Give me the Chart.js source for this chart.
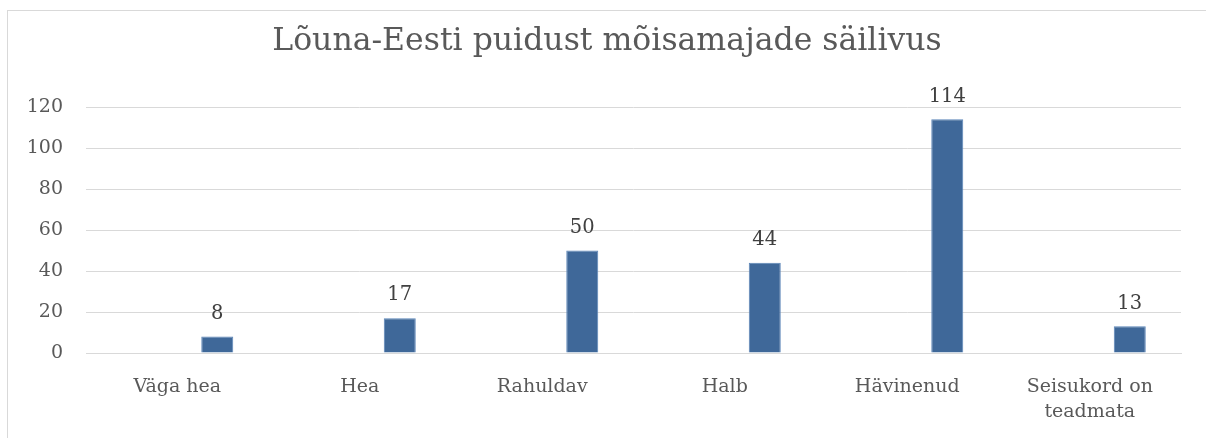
<!DOCTYPE html>
<html>
<head>
<meta charset="utf-8">
<script src="https://cdn.jsdelivr.net/npm/chart.js@4"></script>
<style>
  html, body { margin: 0; padding: 0; background: #fff; }
  #wrap { width: 1206px; height: 438px; position: relative; }
</style>
</head>
<body>
<div id="wrap"><canvas id="c" width="1206" height="438"></canvas></div>
<script>
var categories = ['Väga hea', 'Hea', 'Rahuldav', 'Halb', 'Hävinenud', ['Seisukord on', 'teadmata']];
var hiddenValues = [null, null, null, null, null, null];
var values = [8, 17, 50, 44, 114, 13];
var yTicks = [0, 20, 40, 60, 80, 100, 120];
var chartTitle = 'Lõuna-Eesti puidust mõisamajade säilivus';

var fontFamily = '"DejaVu Serif", serif';
var textColor = '#595959';

// frame + title + value labels, Excel style
var excelLook = {
	id: 'excelLook',
	beforeDraw: function(chart) {
		var ctx = chart.ctx;
		ctx.save();
		ctx.strokeStyle = '#d9d9d9';
		ctx.lineWidth = 1;
		ctx.strokeRect(7.5, 10.5, 1240, 460);
		ctx.restore();
	},
	afterDraw: function(chart) {
		var ctx = chart.ctx;
		ctx.save();
		ctx.fillStyle = textColor;
		ctx.font = '31.5px ' + fontFamily;
		ctx.textAlign = 'center';
		ctx.textBaseline = 'middle';
		ctx.fillText(chartTitle, 607, 42);

		ctx.fillStyle = '#404040';
		ctx.font = '19.5px ' + fontFamily;
		ctx.textBaseline = 'bottom';
		var meta = chart.getDatasetMeta(1);
		meta.data.forEach(function(bar, i) {
			ctx.fillText(String(values[i]), bar.x, bar.y - 13);
		});
		ctx.restore();
	}
};

new Chart(document.getElementById('c'), {
	type: 'bar',
	data: {
		labels: categories,
		datasets: [
			{ label: 'tühi', data: hiddenValues, backgroundColor: 'rgba(0,0,0,0)' },
			{ label: 'Säilivus', data: values, backgroundColor: '#3f6899', borderColor: '#5b85b8', borderWidth: 1 }
		]
	},
	options: {
		responsive: false,
		animation: false,
		layout: { padding: { left: 0, right: 25, top: 107, bottom: 0 } },
		datasets: { bar: { categoryPercentage: 0.877, barPercentage: 0.4 } },
		plugins: {
			legend: { display: false },
			title: { display: false },
			tooltip: { enabled: false }
		},
		scales: {
			x: {
				grid: { display: false },
				border: { color: '#d9d9d9' },
				ticks: { color: textColor, font: { family: fontFamily, size: 19, lineHeight: 1.3 }, maxRotation: 0, autoSkip: false, padding: 14 },
				afterFit: function(s) { s.height = 85; }
			},
			y: {
				min: 0,
				max: 120,
				afterBuildTicks: function(s) { s.ticks = yTicks.map(function(v) { return { value: v }; }); },
				grid: { color: '#d9d9d9', drawTicks: false },
				border: { display: false },
				ticks: { color: textColor, font: { family: fontFamily, size: 19 }, padding: 23 },
				afterFit: function(s) { s.width = 86; }
			}
		}
	},
	plugins: [excelLook]
});
</script>
</body>
</html>
